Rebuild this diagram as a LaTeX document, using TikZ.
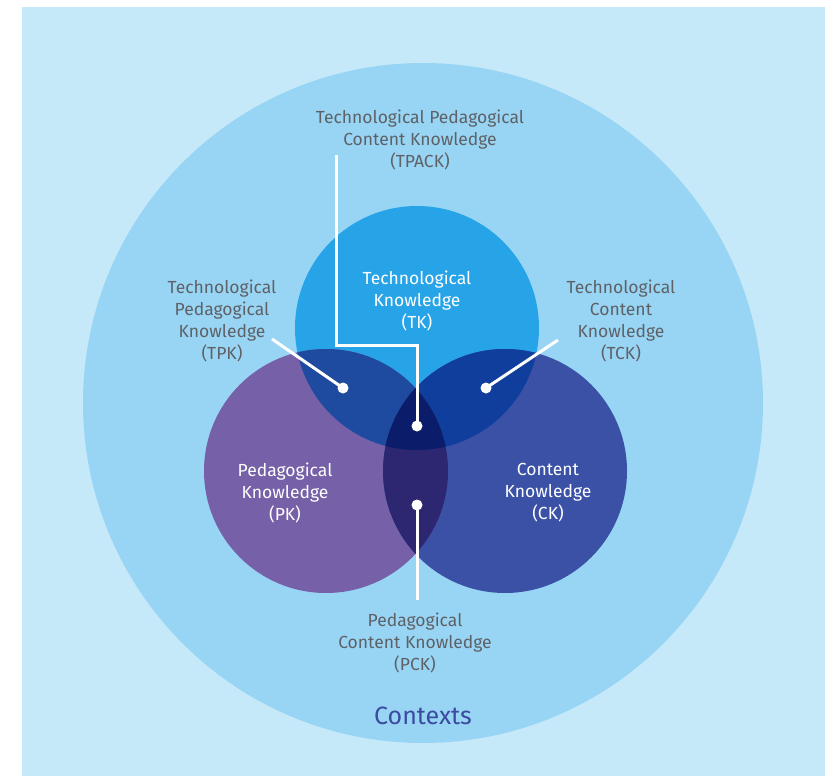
\documentclass[tikz,border=0pt]{standalone}
\usepackage{fontspec}
\setmainfont{Fira Sans}
\definecolor{bgblue}{HTML}{C6E9F9}
\definecolor{ctxblue}{HTML}{98D5F4}
\definecolor{tkblue}{HTML}{27A3E8}
\definecolor{pkpurple}{HTML}{7660A8}
\definecolor{ckblue}{HTML}{3A51A6}
\definecolor{tpkblue}{HTML}{1E4B9F}
\definecolor{tckblue}{HTML}{0F3E9C}
\definecolor{pckblue}{HTML}{2D2670}
\definecolor{tpackblue}{HTML}{0A1C6A}
\definecolor{labelgray}{HTML}{5E6166}
\definecolor{ctxtext}{HTML}{3A4BA0}
\tikzset{
  lbl/.style={align=center, text=labelgray, font=\fontsize{17.5}{22}\selectfont},
  inlbl/.style={align=center, text=white, font=\fontsize{17.5}{22}\selectfont},
  pointer/.style={white, line width=3pt},
  spot/.style={circle, fill=white, inner sep=0pt, minimum size=11pt}
}
\begin{document}
\begin{tikzpicture}[x=1pt,y=-1pt]
  \useasboundingbox (0,0) rectangle (825,776);
  \fill[bgblue] (22,7) rectangle (825,776);
  \fill[ctxblue] (423,403) circle (340pt);
  % the three circles
  \fill[tkblue] (417,328) circle (122pt);
  \fill[pkpurple] (326,471) circle (122pt);
  \fill[ckblue] (505,471) circle (122pt);
  % overlaps
  \begin{scope}
    \clip (417,328) circle (122pt);
    \fill[tpkblue] (326,471) circle (122pt);
    \fill[tckblue] (505,471) circle (122pt);
  \end{scope}
  \begin{scope}
    \clip (326,471) circle (122pt);
    \fill[pckblue] (505,471) circle (122pt);
    \clip (505,471) circle (122pt);
    \fill[tpackblue] (417,328) circle (122pt);
  \end{scope}
  % labels
  \node[lbl] (tpack) at (420,140) {Technological Pedagogical\\Content Knowledge\\(TPACK)};
  \node[lbl] (tpk) at (222,321) {Technological\\Pedagogical\\Knowledge\\(TPK)};
  \node[lbl] (tck) at (621,321) {Technological\\Content\\Knowledge\\(TCK)};
  \node[lbl] (pck) at (415,643) {Pedagogical\\Content Knowledge\\(PCK)};
  \node[inlbl] (tk) at (417,301) {Technological\\Knowledge\\(TK)};
  \node[inlbl] (pk) at (285,493) {Pedagogical\\Knowledge\\(PK)};
  \node[inlbl] (ck) at (548,493) {Content\\Knowledge\\(CK)};
  \node[text=ctxtext, font=\fontsize{25}{30}\selectfont] (ctx) at (423,716) {Contexts};
  % pointers
  \node[spot] (tpkdot) at (343,388) {};
  \node[spot] (tckdot) at (486,388) {};
  \node[spot] (tpackdot) at (417,426) {};
  \node[spot] (pckdot) at (417,505) {};
  \coordinate (tpkend) at (272,339);
  \coordinate (tckend) at (558,340);
  \coordinate (tpackend) at (336,155);
  \coordinate (pckend) at (417,600);
  \draw[pointer] (tpkend) -- (tpkdot.center);
  \draw[pointer] (tckend) -- (tckdot.center);
  \draw[pointer] (tpackend) |- (417,345) -- (tpackdot.center);
  \draw[pointer] (pckdot.center) -- (pckend);
\end{tikzpicture}
\end{document}
